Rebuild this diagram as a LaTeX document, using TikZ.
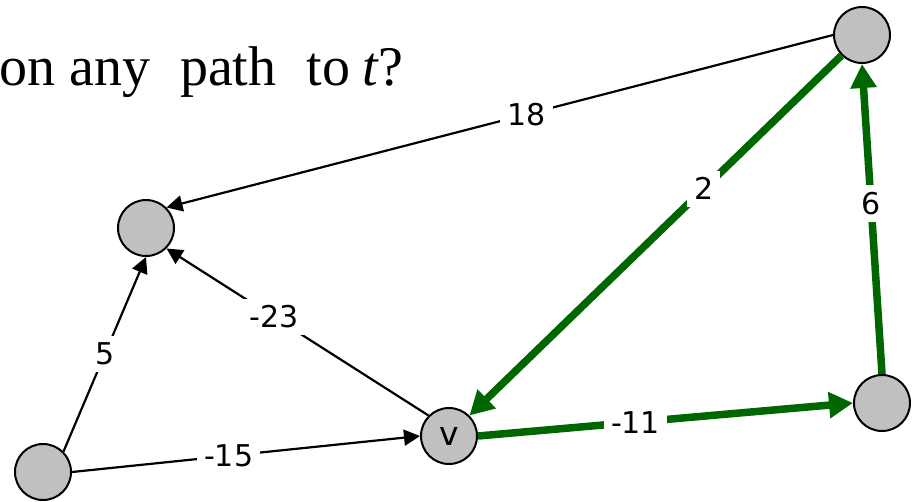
\documentclass[tikz,border=0pt]{standalone}
\usepackage{fontspec}
\setmainfont{Liberation Serif}
\newfontfamily\labelfont{DejaVu Sans}
\usetikzlibrary{arrows.meta}
\definecolor{pathgreen}{HTML}{006600}
\definecolor{nodegray}{HTML}{C0C0C0}

\begin{document}
\begin{tikzpicture}[x=1pt, y=-1pt,
    vertex/.style={circle, draw=black, fill=nodegray, line width=2pt, minimum size=56pt,
                inner sep=0pt, font=\labelfont\fontsize{33}{33}\selectfont},
    edge/.style={draw=black, line width=2.2pt, -{Triangle[length=16pt, width=16pt]}},
    hot/.style={draw=pathgreen, line width=7.5pt, -{Triangle[length=24pt, width=25pt]}},
    weight/.style={fill=white, inner sep=7pt, font=\labelfont\fontsize{30}{30}\selectfont}]
  \useasboundingbox (0,0) rectangle (912,501);
  \node[anchor=base west, inner sep=0pt, font=\fontsize{56}{56}\selectfont] (title) at (-1,85)
    {on\hspace{14pt}any\hspace{30pt}path\hspace{30pt}to\hspace{12pt}\textit{t}?};
  \node[vertex] (t) at (862,35) {};
  \node[vertex] (u) at (146,228) {};
  \node[vertex] (v) at (449,436) {v};
  \node[vertex] (w) at (882,403) {};
  \node[vertex] (s) at (43,472) {};
  \draw[edge] (t.west) -- node[weight, pos=0.46] {18} (u.north east);
  \draw[edge] (v.north west) -- node[weight, pos=0.59] {-23} (u.south east);
  \draw[edge] (s.north east) -- node[weight, pos=0.5] {5} (u.south);
  \draw[edge] (s.east) -- node[weight, pos=0.45] {-15} (v.west);
  \draw[hot] (t.south west) -- node[weight, pos=0.37] {2} (v.north east);
  \draw[hot] (v.east) -- node[weight, pos=0.42] {-11} (w.west);
  \draw[hot] (w.north) -- node[weight, pos=0.55] {6} (t.south);
\end{tikzpicture}
\end{document}
